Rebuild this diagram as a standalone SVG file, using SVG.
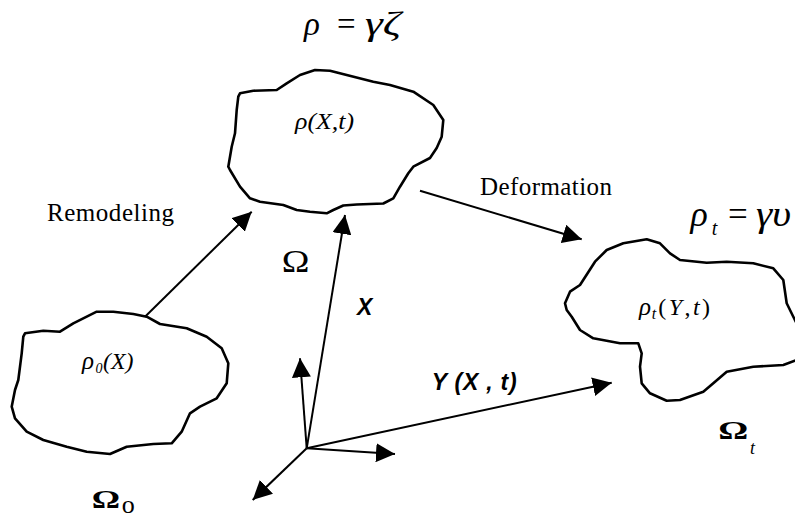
<svg xmlns="http://www.w3.org/2000/svg" width="795" height="520" viewBox="0 0 795 520">
<style>
.blob{fill:none;stroke:#000;stroke-width:2.6;stroke-linejoin:round}
.arr{fill:none;stroke:#000;stroke-width:2}
.serif{font-family:"Liberation Serif","Times New Roman",serif;fill:#000}
.it{font-style:italic}
.sansbi{font-family:"Liberation Sans",Arial,sans-serif;font-weight:bold;font-style:italic;fill:#000}
</style>
<defs>
<marker id="ah" viewBox="0 0 19 19" refX="19" refY="9.5" markerWidth="19" markerHeight="19" markerUnits="userSpaceOnUse" orient="auto">
<path d="M0,0 L19,9.5 L0,19 z" fill="#000"/>
</marker>
</defs>
<rect width="795" height="520" fill="#fff"/>

<g id="formula-top">
<text class="serif it" x="304" y="35" font-size="33">ρ</text>
<text class="serif" x="337" y="35" font-size="33">=</text>
<text class="serif it" x="365" y="35" font-size="34" textLength="36" lengthAdjust="spacingAndGlyphs">γζ</text>
</g>

<g id="node-omega">
<path class="blob" d="M240,93.3 L253.3,90.7 L276.7,90 L286.7,83.3 L300,75 L315,70 L330,70.7 L346.7,75 L373.3,81.7 L390,85 L413.3,91.7 L433.3,105 L443.3,120 L441.7,136.7 L436.7,148 L430,158 L413.3,166.7 L408.3,173.3 L400,186.7 L393.3,198.3 L383.3,203.5 L356.7,204.5 L343.3,205.5 L333.3,210 L326.7,213.3 L310,211.7 L296.7,210 L283.3,205 L260,201.7 L250,198.3 L240,186.7 L230,170 L228.3,166.7 L231.7,146.7 L235,133.3 L236.7,110 L238.3,96.7 Z"/>
<text class="serif it" x="295" y="129" font-size="24" textLength="59" lengthAdjust="spacingAndGlyphs">ρ(X,t)</text>
<text class="serif" x="281.7" y="271.7" font-size="32" textLength="27.7" lengthAdjust="spacingAndGlyphs">Ω</text>
</g>

<g id="node-omega0">
<path class="blob" d="M25,333.3 L43.3,330.7 L60,331.7 L73.3,323.3 L96.7,311.7 L113.3,311.7 L133.3,314 L146.7,316.7 L160,324 L186.7,328.3 L206.7,336.7 L221.7,348.3 L228.3,363.3 L226.7,383.3 L216.7,398.3 L200,406.7 L190,413.3 L181.7,431.7 L171.7,443.3 L153.3,444 L126.7,446.7 L110,454 L86.7,451.7 L66.7,446.7 L43.3,440 L26.7,431.7 L15,418.3 L11.7,406.7 L15,390 L18.3,380 L21.7,353.3 L23.3,336.7 Z"/>
<text class="serif it" x="82" y="369" font-size="25">ρ</text>
<text class="serif it" x="95.5" y="373" font-size="14">0</text>
<text class="serif it" x="103" y="369" font-size="24" textLength="30.5" lengthAdjust="spacingAndGlyphs">(X)</text>
<text class="serif" x="91.7" y="508.3" font-size="26" font-weight="bold" textLength="28.3" lengthAdjust="spacingAndGlyphs">Ω</text>
<text class="serif" x="121.7" y="513.3" font-size="26">o</text>
</g>

<g id="node-omegat">
<path class="blob" d="M565,303.3 L570,291.7 L580,285 L595,261.7 L606.7,250 L623.3,243.3 L646.7,239.3 L660,243.3 L670,253.3 L680,260 L706.7,262.7 L726.7,261.7 L753.3,263.3 L773.3,268.3 L783.3,280 L786.7,303.3 L793.3,316.7 L800,330 L802,350 L797,360 L783.3,365 L753.3,366.7 L726.7,371.7 L713.3,383.3 L703.3,391.7 L680,400 L666.7,400.7 L650,393.3 L641.7,383.3 L640,366.7 L641.7,353.3 L638.3,343.3 L620,343.3 L593.3,338.3 L580,330 L571.7,316.7 L566.7,310 Z"/>
<text class="serif it" x="639" y="315" font-size="25">ρ</text>
<text class="serif it" x="651.7" y="319" font-size="16">t</text>
<text class="serif" x="658.3" y="315" font-size="24" textLength="51.7">(<tspan class="it">Y</tspan>,<tspan class="it">t</tspan>)</text>
<text class="serif" x="718.3" y="439.3" font-size="26" font-weight="bold" textLength="30" lengthAdjust="spacingAndGlyphs">Ω</text>
<text class="serif it" x="750" y="454" font-size="18">t</text>
</g>

<g id="formula-right">
<text class="serif it" x="690.5" y="226" font-size="36">ρ</text>
<text class="serif it" x="711.7" y="235" font-size="20">t</text>
<text class="serif" x="728" y="226" font-size="35">=</text>
<text class="serif it" x="756" y="226" font-size="36" textLength="35" lengthAdjust="spacingAndGlyphs">γυ</text>
</g>

<g id="connectors">
<line class="arr" x1="145" y1="316.7" x2="251.7" y2="211.7" marker-end="url(#ah)"/>
<line class="arr" x1="420" y1="190.7" x2="581.7" y2="239.3" marker-end="url(#ah)"/>
<line class="arr" x1="306.7" y1="448.3" x2="345" y2="215" marker-end="url(#ah)"/>
<line class="arr" x1="306.7" y1="448.3" x2="611.7" y2="382.7" marker-end="url(#ah)"/>
<line class="arr" x1="306.7" y1="448.3" x2="300" y2="358.3" marker-end="url(#ah)"/>
<line class="arr" x1="306.7" y1="448.3" x2="395" y2="454" marker-end="url(#ah)"/>
<line class="arr" x1="306.7" y1="448.3" x2="252.7" y2="500" marker-end="url(#ah)"/>
</g>

<g id="labels">
<text class="serif" x="47" y="221" font-size="25" textLength="127">Remodeling</text>
<text class="serif" x="480" y="195" font-size="25" textLength="132">Deformation</text>
<text class="sansbi" x="357" y="315" font-size="23">X</text>
<text class="sansbi" x="431.7" y="390" font-size="23" textLength="85">Y (X , t)</text>
</g>
</svg>
